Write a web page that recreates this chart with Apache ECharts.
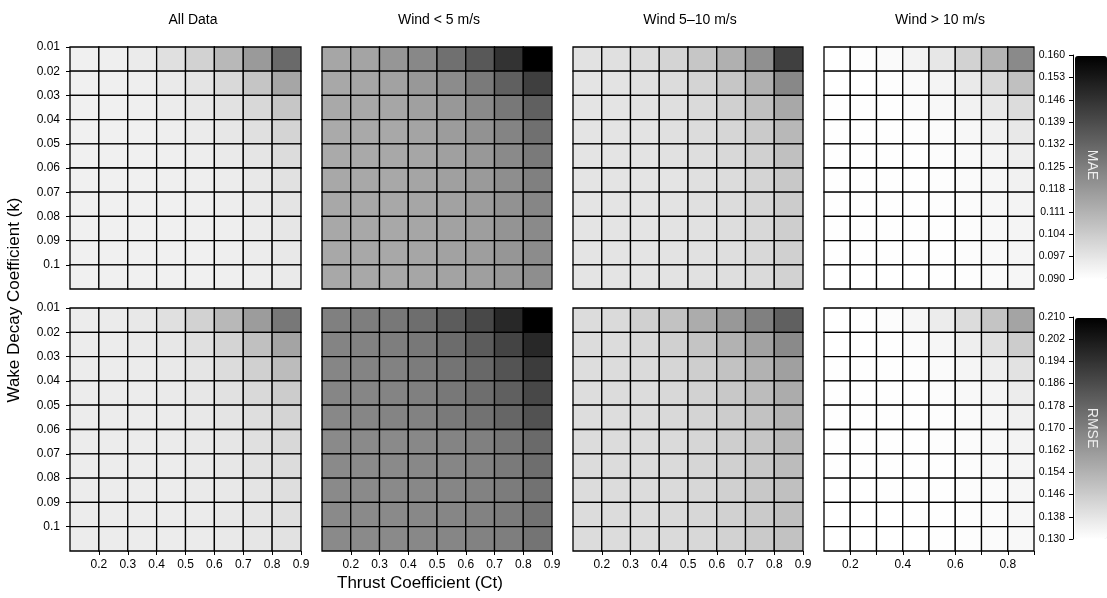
<!DOCTYPE html>
<html>
<head>
<meta charset="utf-8">
<script src="https://cdn.jsdelivr.net/npm/echarts@6/dist/echarts.min.js"></script>
<style>html,body{margin:0;padding:0;background:#fff;}#chart{width:1107px;height:598px;}</style>
</head>
<body>
<div id="chart"></div>
<script>
// Tick labels (boundaries of the cells)
const ctTicks = ['0.1','0.2','0.3','0.4','0.5','0.6','0.7','0.8','0.9'];
const kTicks = ['0.01','0.02','0.03','0.04','0.05','0.06','0.07','0.08','0.09','0.1','0.11'];
const maeTicks = ['0.090','0.097','0.104','0.111','0.118','0.125','0.132','0.139','0.146','0.153','0.160'];
const rmseTicks = ['0.130','0.138','0.146','0.154','0.162','0.170','0.178','0.186','0.194','0.202','0.210'];
const panelTitles = ['All Data','Wind < 5 m/s','Wind 5\u201310 m/s','Wind > 10 m/s'];

// rows: k = 0.01 ... 0.1 ; columns: Ct = 0.2 ... 0.9
const maeAll = [
 [0.0941,0.0944,0.0955,0.0985,0.1024,0.1095,0.1177,0.1309],
 [0.0941,0.0944,0.0947,0.0958,0.0974,0.1004,0.1059,0.1144],
 [0.0941,0.0941,0.0944,0.0952,0.0963,0.0980,0.1007,0.1056],
 [0.0941,0.0941,0.0941,0.0947,0.0955,0.0966,0.0985,0.1018],
 [0.0941,0.0941,0.0941,0.0944,0.0949,0.0958,0.0971,0.0996],
 [0.0941,0.0941,0.0941,0.0944,0.0947,0.0952,0.0963,0.0982],
 [0.0941,0.0941,0.0941,0.0941,0.0944,0.0949,0.0958,0.0974],
 [0.0941,0.0941,0.0941,0.0941,0.0944,0.0947,0.0955,0.0969],
 [0.0941,0.0941,0.0941,0.0941,0.0941,0.0947,0.0952,0.0963],
 [0.0941,0.0941,0.0941,0.0941,0.0941,0.0944,0.0949,0.0958]
];
const maeLow = [
 [0.1144,0.1150,0.1188,0.1227,0.1293,0.1358,0.1460,0.1600],
 [0.1139,0.1144,0.1155,0.1183,0.1216,0.1265,0.1336,0.1427],
 [0.1136,0.1139,0.1144,0.1161,0.1183,0.1221,0.1271,0.1336],
 [0.1133,0.1136,0.1139,0.1150,0.1172,0.1199,0.1238,0.1293],
 [0.1133,0.1136,0.1139,0.1144,0.1161,0.1183,0.1221,0.1265],
 [0.1139,0.1139,0.1139,0.1147,0.1161,0.1177,0.1210,0.1249],
 [0.1139,0.1139,0.1139,0.1144,0.1155,0.1172,0.1199,0.1232],
 [0.1139,0.1139,0.1139,0.1144,0.1155,0.1166,0.1194,0.1221],
 [0.1139,0.1139,0.1139,0.1144,0.1155,0.1166,0.1188,0.1216],
 [0.1139,0.1139,0.1139,0.1144,0.1153,0.1164,0.1183,0.1210]
];
const maeMid = [
 [0.0980,0.0985,0.0996,0.1018,0.1056,0.1117,0.1205,0.1424],
 [0.0974,0.0977,0.0985,0.0996,0.1018,0.1056,0.1117,0.1227],
 [0.0974,0.0974,0.0980,0.0988,0.1002,0.1029,0.1073,0.1139],
 [0.0974,0.0974,0.0977,0.0985,0.0996,0.1013,0.1045,0.1095],
 [0.0974,0.0974,0.0977,0.0982,0.0991,0.1007,0.1029,0.1073],
 [0.0974,0.0974,0.0974,0.0974,0.0985,0.0996,0.1018,0.1051],
 [0.0974,0.0974,0.0974,0.0977,0.0985,0.0996,0.1013,0.1040],
 [0.0974,0.0974,0.0974,0.0977,0.0982,0.0993,0.1007,0.1035],
 [0.0974,0.0974,0.0974,0.0977,0.0982,0.0991,0.1007,0.1029],
 [0.0974,0.0974,0.0974,0.0977,0.0982,0.0991,0.1002,0.1024]
];
const maeHigh = [
 [0.0900,0.0905,0.0914,0.0933,0.0966,0.1024,0.1106,0.1221],
 [0.0900,0.0900,0.0905,0.0914,0.0930,0.0958,0.1007,0.1073],
 [0.0903,0.0903,0.0903,0.0911,0.0919,0.0936,0.0963,0.0996],
 [0.0903,0.0903,0.0903,0.0905,0.0911,0.0922,0.0941,0.0963],
 [0.0903,0.0903,0.0903,0.0903,0.0908,0.0916,0.0930,0.0947],
 [0.0903,0.0903,0.0903,0.0903,0.0905,0.0914,0.0925,0.0938],
 [0.0903,0.0903,0.0903,0.0903,0.0905,0.0911,0.0922,0.0933],
 [0.0903,0.0903,0.0903,0.0903,0.0903,0.0908,0.0919,0.0930],
 [0.0903,0.0903,0.0903,0.0903,0.0903,0.0908,0.0916,0.0927],
 [0.0900,0.0900,0.0900,0.0900,0.0903,0.0905,0.0914,0.0925]
];
const rmseAll = [
 [0.1360,0.1363,0.1372,0.1397,0.1441,0.1523,0.1611,0.1724],
 [0.1360,0.1360,0.1366,0.1375,0.1397,0.1435,0.1498,0.1585],
 [0.1360,0.1360,0.1363,0.1369,0.1382,0.1410,0.1447,0.1510],
 [0.1360,0.1360,0.1360,0.1366,0.1375,0.1394,0.1419,0.1460],
 [0.1360,0.1360,0.1360,0.1363,0.1372,0.1385,0.1404,0.1435],
 [0.1360,0.1360,0.1360,0.1363,0.1369,0.1378,0.1397,0.1422],
 [0.1360,0.1360,0.1360,0.1360,0.1366,0.1375,0.1391,0.1410],
 [0.1360,0.1360,0.1360,0.1360,0.1366,0.1372,0.1385,0.1404],
 [0.1360,0.1360,0.1360,0.1360,0.1363,0.1372,0.1382,0.1397],
 [0.1360,0.1360,0.1360,0.1360,0.1363,0.1369,0.1378,0.1391]
];
const rmseLow = [
 [0.1698,0.1705,0.1724,0.1755,0.1811,0.1874,0.1975,0.2100],
 [0.1686,0.1692,0.1705,0.1724,0.1761,0.1811,0.1887,0.1975],
 [0.1680,0.1686,0.1692,0.1711,0.1736,0.1774,0.1836,0.1912],
 [0.1680,0.1680,0.1686,0.1698,0.1724,0.1755,0.1799,0.1874],
 [0.1673,0.1680,0.1686,0.1692,0.1717,0.1742,0.1780,0.1843],
 [0.1667,0.1667,0.1667,0.1673,0.1686,0.1698,0.1730,0.1767],
 [0.1667,0.1667,0.1667,0.1673,0.1680,0.1692,0.1717,0.1755],
 [0.1667,0.1667,0.1667,0.1673,0.1680,0.1692,0.1711,0.1742],
 [0.1667,0.1667,0.1667,0.1673,0.1680,0.1692,0.1711,0.1742],
 [0.1667,0.1667,0.1667,0.1673,0.1680,0.1692,0.1705,0.1736]
];
const rmseMid = [
 [0.1410,0.1416,0.1447,0.1491,0.1560,0.1623,0.1698,0.1799],
 [0.1410,0.1410,0.1422,0.1447,0.1485,0.1542,0.1592,0.1667],
 [0.1407,0.1410,0.1416,0.1429,0.1454,0.1491,0.1542,0.1598],
 [0.1407,0.1410,0.1410,0.1422,0.1441,0.1473,0.1510,0.1560],
 [0.1407,0.1407,0.1410,0.1419,0.1435,0.1460,0.1491,0.1535],
 [0.1410,0.1410,0.1410,0.1416,0.1429,0.1454,0.1479,0.1523],
 [0.1410,0.1410,0.1410,0.1416,0.1429,0.1447,0.1473,0.1510],
 [0.1410,0.1410,0.1410,0.1416,0.1425,0.1447,0.1473,0.1498],
 [0.1410,0.1410,0.1410,0.1416,0.1425,0.1444,0.1467,0.1498],
 [0.1410,0.1410,0.1410,0.1416,0.1422,0.1441,0.1467,0.1491]
];
const rmseHigh = [
 [0.1300,0.1303,0.1309,0.1328,0.1360,0.1410,0.1485,0.1585],
 [0.1300,0.1300,0.1303,0.1313,0.1328,0.1353,0.1397,0.1460],
 [0.1303,0.1303,0.1303,0.1306,0.1316,0.1331,0.1353,0.1391],
 [0.1303,0.1303,0.1303,0.1303,0.1309,0.1322,0.1335,0.1360],
 [0.1303,0.1303,0.1303,0.1303,0.1306,0.1316,0.1328,0.1347],
 [0.1303,0.1303,0.1303,0.1303,0.1306,0.1313,0.1322,0.1338],
 [0.1303,0.1303,0.1303,0.1303,0.1303,0.1309,0.1319,0.1331],
 [0.1300,0.1300,0.1303,0.1303,0.1303,0.1309,0.1316,0.1328],
 [0.1300,0.1300,0.1300,0.1303,0.1303,0.1306,0.1313,0.1325],
 [0.1300,0.1300,0.1300,0.1300,0.1303,0.1306,0.1313,0.1322]
];

const panels = [maeAll, maeLow, maeMid, maeHigh, rmseAll, rmseLow, rmseMid, rmseHigh];

const FONT = '"Liberation Sans", Arial, Helvetica, sans-serif';
const gridLefts = [70, 322, 573, 824];
const gridWidths = [231, 230, 230, 210];
const gridTops = [47, 308];
const gridHeights = [242, 243];
const titleCenters = [193, 439, 690, 940];

const grids = [], xAxes = [], yAxes = [], series = [];
for (let i = 0; i < 8; i++) {
  const row = Math.floor(i / 4), col = i % 4;
  grids.push({left: gridLefts[col], top: gridTops[row], width: gridWidths[col], height: gridHeights[row], containLabel: false});
  const bottom = row === 1;
  xAxes.push({
    type: 'category', gridIndex: i, data: ctTicks, boundaryGap: false,
    axisLine: {show: false},
    axisTick: {show: bottom, length: 4, interval: (idx) => idx > 0, lineStyle: {color: '#000', width: 1}},
    axisLabel: {show: bottom, fontFamily: FONT, fontSize: 12, color: '#000', margin: 8,
      interval: col === 3 ? (idx) => idx % 2 === 1 : (idx) => idx > 0},
    splitLine: {show: false}
  });
  yAxes.push({
    type: 'category', gridIndex: i, data: kTicks, boundaryGap: false, inverse: true,
    axisLine: {show: false},
    axisTick: {show: col === 0, length: 4, interval: (idx) => idx < 10, lineStyle: {color: '#000', width: 1}},
    axisLabel: {show: col === 0, fontFamily: FONT, fontSize: 12, color: '#000', margin: 10, interval: (idx) => idx < 10},
    splitLine: {show: false}
  });
  const data = [];
  panels[i].forEach((vals, r) => vals.forEach((v, c) => data.push([c + 1, r, v])));
  series.push({
    type: 'custom', xAxisIndex: i, yAxisIndex: i, data: data,
    encode: {x: 0, y: 1},
    renderItem: function (params, api) {
      const cx = api.value(0), ry = api.value(1);
      const p0 = api.coord([cx - 1, ry]);
      const p1 = api.coord([cx, ry + 1]);
      return {
        type: 'rect',
        shape: {x: Math.min(p0[0], p1[0]), y: Math.min(p0[1], p1[1]), width: Math.abs(p1[0] - p0[0]), height: Math.abs(p1[1] - p0[1])},
        style: {fill: api.visual('color'), stroke: '#000', lineWidth: 1.3}
      };
    }
  });
}
// colour bar axes
const cbTops = [55, 317], cbHeights = [224, 222], cbTicks = [maeTicks, rmseTicks];
for (let j = 0; j < 2; j++) {
  const gi = 8 + j;
  grids.push({left: 1073, top: cbTops[j], width: 1, height: cbHeights[j]});
  xAxes.push({type: 'value', gridIndex: gi, show: false});
  yAxes.push({
    type: 'category', gridIndex: gi, data: cbTicks[j], boundaryGap: false, position: 'left',
    axisLine: {show: true, lineStyle: {color: '#000', width: 1}},
    axisTick: {show: true, length: 4, lineStyle: {color: '#000', width: 1}},
    axisLabel: {fontFamily: FONT, fontSize: 10.5, color: '#000', margin: 8, interval: 0},
    splitLine: {show: false}
  });
}

const graphics = [];
panelTitles.forEach((t, i) => graphics.push({
  type: 'text', x: titleCenters[i], y: 20,
  style: {text: t, fontFamily: FONT, fontSize: 14, fill: '#000', textAlign: 'center', textVerticalAlign: 'middle'}
}));
graphics.push({type: 'text', x: 420, y: 583,
  style: {text: 'Thrust Coefficient (Ct)', fontFamily: FONT, fontSize: 17, fill: '#000', textAlign: 'center', textVerticalAlign: 'middle'}});
graphics.push({type: 'text', x: 14, y: 300, rotation: Math.PI / 2,
  style: {text: 'Wake Decay Coefficient (k)', fontFamily: FONT, fontSize: 17, fill: '#000', textAlign: 'center', textVerticalAlign: 'middle'}});
graphics.push({type: 'text', x: 1092, y: 165, rotation: -Math.PI / 2, z: 100,
  style: {text: 'MAE', fontFamily: FONT, fontSize: 14, fill: '#eeeeee', textAlign: 'center', textVerticalAlign: 'middle'}});
graphics.push({type: 'text', x: 1092, y: 428, rotation: -Math.PI / 2, z: 100,
  style: {text: 'RMSE', fontFamily: FONT, fontSize: 14, fill: '#eeeeee', textAlign: 'center', textVerticalAlign: 'middle'}});

const chart = echarts.init(document.getElementById('chart'), null, {renderer: 'canvas'});
chart.setOption({
  animation: false,
  backgroundColor: '#ffffff',
  grid: grids, xAxis: xAxes, yAxis: yAxes, series: series,
  visualMap: [
    {type: 'continuous', min: 0.09, max: 0.16, seriesIndex: [0, 1, 2, 3], dimension: 2,
     inRange: {color: ['#ffffff', '#000000']}, left: 1075, top: 56, itemWidth: 32, itemHeight: 223,
     calculable: false, showLabel: false, text: null, padding: 0, hoverLink: false},
    {type: 'continuous', min: 0.13, max: 0.21, seriesIndex: [4, 5, 6, 7], dimension: 2,
     inRange: {color: ['#ffffff', '#000000']}, left: 1075, top: 318, itemWidth: 32, itemHeight: 221,
     calculable: false, showLabel: false, text: null, padding: 0, hoverLink: false}
  ],
  graphic: graphics
});
</script>
</body>
</html>
